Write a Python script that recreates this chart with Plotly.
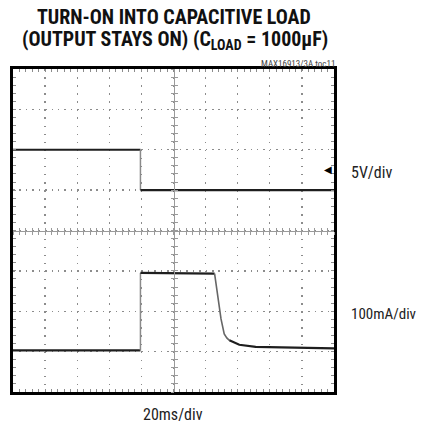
import plotly.graph_objects as go

# ---- data (time in ms, amplitude in screen divisions) ----
ch1_high_t = [0, 79.4]
ch1_high_y = [6.0, 6.0]
ch1_edge_t = [79.4, 79.4]
ch1_edge_y = [6.0, 5.0]
ch1_low_t = [79.4, 200]
ch1_low_y = [5.0, 5.0]

ch2_low_t = [0, 79.4]
ch2_low_y = [1.03, 1.03]
ch2_edge_t = [79.4, 79.4]
ch2_edge_y = [1.03, 2.95]
ch2_high_t = [79.4, 125.6]
ch2_high_y = [2.95, 2.93]
ch2_fall_t = [125.6, 127.6, 129.6, 131.6, 133.2, 134.8]
ch2_fall_y = [2.93, 2.30, 1.81, 1.44, 1.34, 1.28]
ch2_tail_t = [134.8, 141.0, 151.2, 170.0, 200.0]
ch2_tail_y = [1.28, 1.17, 1.12, 1.10, 1.08]

title_line1 = "TURN-ON INTO CAPACITIVE LOAD"
title_line2 = "(OUTPUT STAYS ON) (C<sub>LOAD</sub> = 1000µF)"
ch1_label = "5V/div"
ch2_label = "100mA/div"
time_label = "20ms/div"
doc_id = "MAX16913/3A toc11"

FONT = "Roboto Condensed, Liberation Sans Narrow, Arial Narrow, sans-serif"
DARK = "#1e1e1e"
EDGE = "#8a8a8a"
GRID = "#8c8c8c"

W, H = 424, 428
ML, MR, MT, MB = 13, 90, 69, 36
PW, PH = W - ML - MR, H - MT - MB


def px(X):  # page x -> paper x
    return (X - ML) / PW


def py(Y):  # page y -> paper y
    return (H - MB - Y) / PH


fig = go.Figure()


def seg(t, y, color, width):
    fig.add_trace(go.Scatter(x=t, y=y, mode="lines", line=dict(color=color, width=width),
                             showlegend=False, hoverinfo="skip"))


seg(ch1_high_t, ch1_high_y, DARK, 2.2)
seg(ch1_edge_t, ch1_edge_y, EDGE, 1.5)
seg(ch1_low_t, ch1_low_y, DARK, 2.2)
seg(ch2_low_t, ch2_low_y, DARK, 2.2)
seg(ch2_edge_t, ch2_edge_y, EDGE, 1.5)
seg(ch2_high_t, ch2_high_y, DARK, 2.2)
seg(ch2_fall_t, ch2_fall_y, "#666666", 1.6)
seg(ch2_tail_t, ch2_tail_y, DARK, 2.2)

# dummy traces so the centre crosshair axes get drawn
for xa, ya in [("x2", "y"), ("x3", "y"), ("x", "y2"), ("x", "y3")]:
    fig.add_trace(go.Scatter(x=[None], y=[None], xaxis=xa, yaxis=ya, showlegend=False, hoverinfo="skip"))

xdash = f"1.5px,{PH/40-1.5:.3f}px"
ydash = f"1.5px,{PW/50-1.5:.3f}px"
CROSS = "#9a9a9a"

common = dict(showticklabels=False, zeroline=False, fixedrange=True)
fig.update_layout(
    width=W, height=H,
    margin=dict(l=ML, r=MR, t=MT, b=MB),
    paper_bgcolor="white", plot_bgcolor="white",
    xaxis=dict(range=[0, 200], dtick=20, showgrid=True, gridcolor=GRID, gridwidth=1.3, griddash=xdash,
               showline=True, linecolor="black", linewidth=3, mirror="ticks",
               ticks="inside", ticklen=3, tickcolor=GRID, tickwidth=1,
               minor=dict(dtick=4, ticks="inside", ticklen=3, tickcolor=GRID, showgrid=False),
               **common),
    yaxis=dict(range=[0, 8], dtick=1, showgrid=True, gridcolor=GRID, gridwidth=1.3, griddash=ydash,
               showline=True, linecolor="black", linewidth=3, mirror="ticks",
               ticks="inside", ticklen=3, tickcolor=GRID, tickwidth=1,
               minor=dict(dtick=0.2, ticks="inside", ticklen=3, tickcolor=GRID, showgrid=False),
               **common),
    xaxis2=dict(overlaying="x", anchor="free", position=0.5, range=[0, 200], dtick=4,
                showline=True, linecolor=CROSS, linewidth=1, ticks="outside", ticklen=3,
                tickcolor=CROSS, showgrid=False, **common),
    xaxis3=dict(overlaying="x", anchor="free", position=0.5, range=[0, 200], dtick=4,
                showline=True, linecolor=CROSS, linewidth=1, ticks="inside", ticklen=3,
                tickcolor=CROSS, showgrid=False, **common),
    yaxis2=dict(overlaying="y", anchor="free", position=0.5, range=[0, 8], dtick=0.2,
                showline=True, linecolor=CROSS, linewidth=1, ticks="outside", ticklen=3,
                tickcolor=CROSS, showgrid=False, **common),
    yaxis3=dict(overlaying="y", anchor="free", position=0.5, range=[0, 8], dtick=0.2,
                showline=True, linecolor=CROSS, linewidth=1, ticks="inside", ticklen=3,
                tickcolor=CROSS, showgrid=False, **common),
)

ann = [
    dict(text=f"<b>{title_line1}</b>", x=0.5, y=py(17), xanchor="center", yanchor="middle",
         font=dict(family=FONT, size=20, color="#111")),
    dict(text=f"<b>{title_line2}</b>", x=px(174.5), y=py(40), xanchor="center", yanchor="middle",
         font=dict(family=FONT, size=20, color="#111")),
    dict(text=doc_id, x=px(337), y=py(63.5), xanchor="right", yanchor="middle",
         font=dict(family=FONT, size=9, color="#444")),
    dict(text=ch1_label, x=px(349), y=py(172), xanchor="left", yanchor="middle",
         font=dict(family=FONT, size=16, color="#222")),
    dict(text=ch2_label, x=px(349), y=py(314), xanchor="left", yanchor="middle",
         font=dict(family=FONT, size=15, color="#222")),
    dict(text=time_label, x=px(172.5), y=py(414.5), xanchor="center", yanchor="middle",
         font=dict(family=FONT, size=16, color="#222")),
    dict(text="◀", x=1.0, y=py(169), xshift=-0.5, xanchor="right", yanchor="middle",
         font=dict(family="DejaVu Sans", size=10, color="black")),
]
for a in ann:
    a.update(xref="paper", yref="paper", showarrow=False)
fig.update_layout(annotations=ann)

# remove the browser's default 8px body margin so the figure fills the window exactly
fig.write_html("out.html", config={"displayModeBar": False, "staticPlot": True},
               post_script="document.body.style.margin='0px';")
